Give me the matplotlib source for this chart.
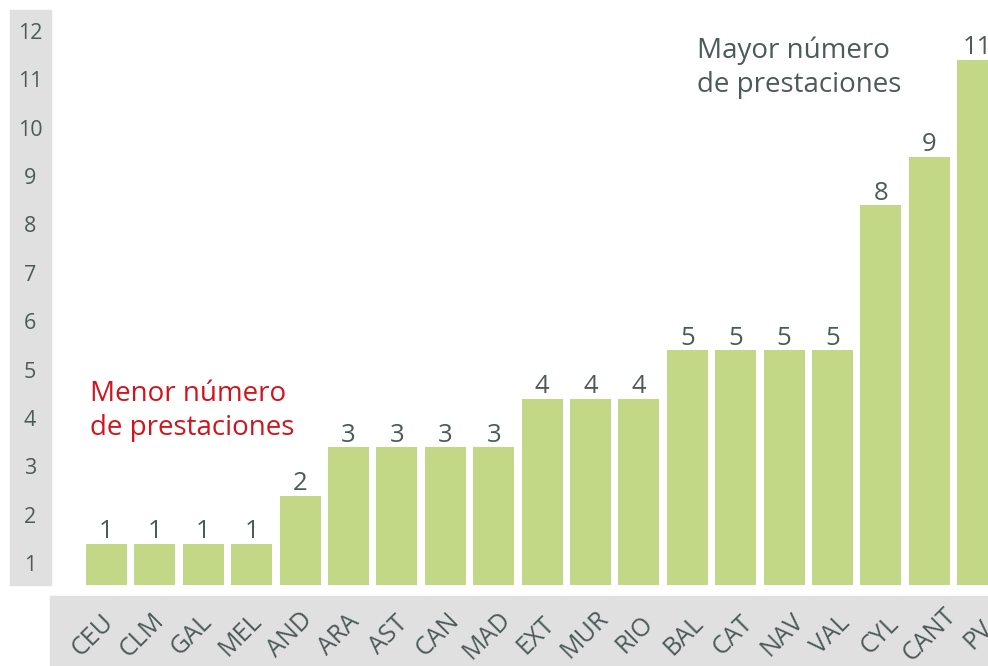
import matplotlib.pyplot as plt
from matplotlib.patches import Rectangle
from matplotlib.transforms import blended_transform_factory

# data
regions = ['CEU', 'CLM', 'GAL', 'MEL', 'AND', 'ARA', 'AST', 'CAN', 'MAD', 'EXT',
           'MUR', 'RIO', 'BAL', 'CAT', 'NAV', 'VAL', 'CYL', 'CANT', 'PV']
prestaciones = [1, 1, 1, 1, 2, 3, 3, 3, 3, 4, 4, 4, 5, 5, 5, 5, 8, 9, 11]
ytick_labels = list(range(1, 13))

GREEN = '#c2d887'
GREY_BG = '#e0e0e0'
TXT = '#4d5a5a'
RED = '#d2141c'

plt.rcParams['font.family'] = ['Open Sans', 'DejaVu Sans']

W, H = 988, 666
fig = plt.figure(figsize=(W / 100, H / 100), dpi=100)

# axes spans whole width, from top down to the bar baseline (585 px)
ax = fig.add_axes([0, (H - 585) / H, 1, 585 / H])
ax.patch.set_visible(False)
step = 48.4
ax.set_xlim(-106.5 / step, (W - 106.5) / step)
ax.set_ylim(0.151, 592.3 / step)
for s in ax.spines.values():
    s.set_visible(False)
ax.set_xticks([])
ax.set_yticks([])

x = list(range(len(regions)))
bars = ax.bar(x, prestaciones, width=0.847, color=GREEN, zorder=2)
for xi, v in zip(x, prestaciones):
    ax.annotate(str(v), (xi, v), xytext=(0, 4), textcoords='offset points',
                ha='center', va='baseline', fontsize=18.5, color=TXT)

# grey strips
fig.patches.append(Rectangle((10 / W, (H - 585) / H), 41 / W, 575 / H,
                             transform=fig.transFigure, color=GREY_BG, zorder=0))
fig.patches.append(Rectangle((50 / W, 0), (W - 50) / W, 70 / H,
                             transform=fig.transFigure, color=GREY_BG, zorder=0))

# y labels inside the left strip
tr = blended_transform_factory(fig.transFigure, ax.transData)
for k in ytick_labels:
    fig.text(30 / W, k - 0.45, str(k), transform=tr, ha='center', va='center',
             fontsize=15.5, color=TXT, zorder=5)

# category labels in the bottom strip (label spacing a bit wider than bars)
trx = blended_transform_factory(ax.transData, fig.transFigure)
for xi, name in zip(x, regions):
    fig.text(xi * 1.017 - 0.28, (H - 635) / H, name, transform=trx, rotation=45,
             rotation_mode='anchor', ha='center', va='center',
             fontsize=18, color=TXT, zorder=5)

fig.text(90 / W, (H - 411) / H, 'Menor número\nde prestaciones', ha='left',
         va='center', fontsize=20, color=RED, linespacing=1.3, zorder=5)
fig.text(697 / W, (H - 68) / H, 'Mayor número\nde prestaciones', ha='left',
         va='center', fontsize=20, color=TXT, linespacing=1.3, zorder=5)

fig.savefig('out.png', dpi=100)
